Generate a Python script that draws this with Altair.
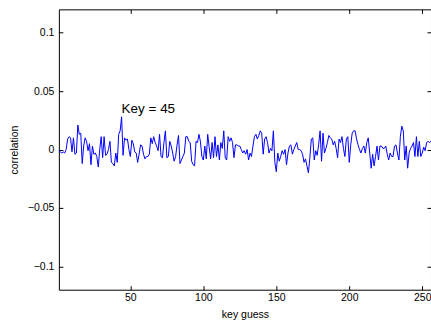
import altair as alt
import pandas as pd

key_guess = list(range(1, 257))
correlation = [
    -0.001, -0.002, -0.003, -0.002, -0.003, 0.000, 0.009, 0.011, 0.010, -0.002,
    0.010, -0.004, -0.003, 0.021, 0.013, 0.014, -0.012, 0.003, 0.010, 0.007,
    -0.001, 0.005, -0.013, 0.003, -0.004, -0.003, -0.006, -0.015, 0.000, 0.011,
    -0.007, 0.011, -0.005, -0.004, 0.000, 0.007, -0.011, -0.012, -0.014, -0.003,
    -0.011, 0.013, 0.016, 0.028, -0.005, 0.010, 0.008, 0.009, 0.000, -0.006,
    0.008, 0.005, -0.002, -0.003, -0.011, -0.004, 0.004, 0.003, -0.004, -0.008,
    -0.006, -0.006, -0.004, 0.010, 0.005, 0.011, 0.006, 0.003, -0.001, 0.013,
    -0.006, -0.007, 0.006, 0.016, -0.007, -0.006, 0.007, 0.003, -0.003, -0.010,
    -0.006, 0.004, 0.012, -0.012, -0.009, -0.006, -0.003, 0.011, 0.011, 0.007,
    0.006, -0.010, -0.013, -0.014, 0.007, 0.006, 0.013, 0.007, -0.006, -0.009,
    0.003, -0.008, 0.013, 0.002, -0.008, 0.006, -0.007, 0.011, -0.006, 0.004,
    -0.009, 0.006, 0.001, 0.016, -0.007, -0.009, 0.011, 0.007, 0.010, 0.006,
    -0.007, 0.004, 0.004, 0.003, 0.003, 0.000, -0.003, -0.001, -0.004, 0.000,
    -0.009, -0.003, -0.006, 0.003, 0.011, 0.013, 0.009, 0.012, 0.016, 0.014,
    -0.004, 0.009, 0.011, 0.006, -0.003, 0.001, -0.001, 0.016, -0.011, -0.019,
    -0.003, -0.010, -0.006, -0.001, -0.004, 0.000, -0.013, -0.003, 0.003, 0.004,
    -0.004, 0.000, 0.003, 0.006, 0.000, 0.000, -0.001, -0.004, -0.011, -0.008,
    -0.014, -0.020, -0.007, 0.009, 0.010, -0.009, -0.001, -0.005, 0.004, 0.016,
    -0.010, 0.014, -0.003, 0.001, 0.006, 0.012, 0.010, 0.009, 0.004, 0.007,
    0.001, -0.007, 0.009, 0.006, 0.011, 0.001, -0.006, 0.009, 0.011, -0.011,
    0.004, 0.014, 0.016, 0.016, 0.009, 0.004, 0.000, -0.003, 0.001, 0.003,
    -0.003, 0.006, 0.010, -0.003, -0.016, -0.004, -0.014, -0.006, 0.003, -0.009,
    0.003, 0.003, 0.001, 0.001, 0.003, -0.004, -0.009, -0.003, -0.006, -0.006,
    0.003, 0.004, -0.003, -0.009, 0.011, 0.020, 0.016, -0.009, 0.003, -0.016,
    -0.003, 0.001, 0.003, 0.006, -0.006, 0.011, -0.006, 0.007, -0.006, -0.003,
    0.002, -0.001, 0.006, 0.007, 0.006, 0.007,
]
x_ticks = [50, 100, 150, 200, 250]
y_ticks = [-0.1, -0.05, 0, 0.05, 0.1]
annot_key = [44]
annot_corr = [0.035]
annot_text = ["Key = 45"]

df = pd.DataFrame({"key": key_guess, "corr": correlation})
ann = pd.DataFrame({"key": annot_key, "corr": annot_corr, "label": annot_text})

FONT = "Liberation Sans"
xscale = alt.Scale(domain=[1, 256], nice=False, zero=False)
yscale = alt.Scale(domain=[-0.12, 0.12], nice=False, zero=False)

line = alt.Chart(df).mark_line(color="#0000ff", strokeWidth=1).encode(
    x=alt.X("key:Q", scale=xscale,
            axis=alt.Axis(orient="bottom", values=x_ticks, title="key guess",
                          offset=-4, tickSize=4, domain=False, grid=False,
                          labelPadding=3, titlePadding=6)),
    y=alt.Y("corr:Q", scale=yscale,
            axis=alt.Axis(orient="left", values=y_ticks,
                          labelExpr="replace(format(datum.value, '~g'), '-', '\u2212')",
                          title="correlation", offset=-4, tickSize=4,
                          domain=False, grid=False, labelPadding=5,
                          titlePadding=8)),
)

text = alt.Chart(ann).mark_text(
    align="left", baseline="middle", fontSize=13.5, font=FONT, color="black"
).encode(
    x=alt.X("key:Q", scale=xscale,
            axis=alt.Axis(orient="top", values=x_ticks, labels=False, title=None,
                          offset=-4, tickSize=4, domain=False, grid=False)),
    y=alt.Y("corr:Q", scale=yscale,
            axis=alt.Axis(orient="right", values=y_ticks, labels=False, title=None,
                          offset=-4, tickSize=4, domain=False, grid=False)),
    text="label:N",
)

chart = (
    alt.layer(line, text)
    .resolve_axis(x="independent", y="independent")
    .properties(
        width=373,
        height=281,
        padding={"left": 59, "top": 9, "right": 0, "bottom": 35},
        autosize=alt.AutoSizeParams(type="none"),
        background="white",
    )
    .configure_view(stroke="black", strokeWidth=1)
    .configure_axis(
        labelFont=FONT, titleFont=FONT, labelFontSize=10.5, titleFontSize=10.5,
        labelColor="black", titleColor="black", tickColor="black",
        titleFontWeight="normal", tickWidth=1,
    )
)

chart.save("out.html", embed_options={"renderer": "svg", "actions": False})
